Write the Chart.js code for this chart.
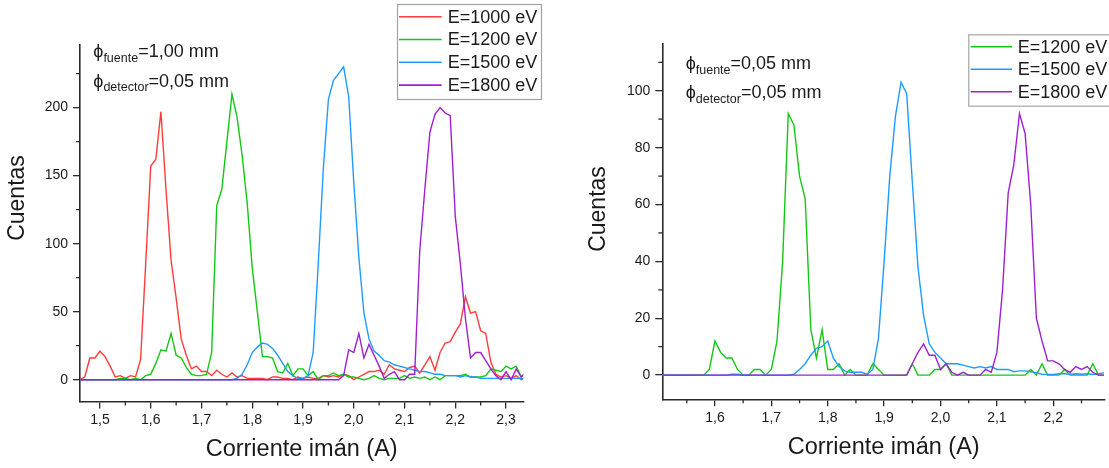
<!DOCTYPE html>
<html>
<head>
<meta charset="utf-8">
<script src="https://cdn.jsdelivr.net/npm/chart.js@4.4.1/dist/chart.umd.min.js"></script>
<style>
  html, body { margin: 0; padding: 0; background: #ffffff; }
  #wrap { position: relative; width: 1109px; height: 468px; overflow: hidden; }
  #panelA { position: absolute; left: 0; top: 0; }
  #panelB { position: absolute; left: 560px; top: 0; }
</style>
</head>
<body>
<div id="wrap">
  <canvas id="panelA" width="560" height="468"></canvas>
  <canvas id="panelB" width="549" height="468"></canvas>
</div>
<script>
// ---------- Panel A: source aperture 1,00 mm ----------
const currentsA = [1.46,1.47,1.48,1.49,1.50,1.51,1.52,1.53,1.54,1.55,
  1.56,1.57,1.58,1.59,1.60,1.61,1.62,1.63,1.64,1.65,
  1.66,1.67,1.68,1.69,1.70,1.71,1.72,1.73,1.74,1.75,
  1.76,1.77,1.78,1.79,1.80,1.81,1.82,1.83,1.84,1.85,
  1.86,1.87,1.88,1.89,1.90,1.91,1.92,1.93,1.94,1.95,
  1.96,1.97,1.98,1.99,2.00,2.01,2.02,2.03,2.04,2.05,
  2.06,2.07,2.08,2.09,2.10,2.11,2.12,2.13,2.14,2.15,
  2.16,2.17,2.18,2.19,2.20,2.21,2.22,2.23,2.24,2.25,
  2.26,2.27,2.28,2.29,2.30,2.31,2.32,2.33,2.34];

const countsA1000 = [0,2,16,16,21,17,10,2,3,1,
  3,2,15,85,157,162,197,140,88,60,
  30,18,8,10,6,6,3,7,4,2,
  5,2,3,1,1,1,1,0,2,2,
  1,1,0,2,1,2,1,1,3,2,
  3,2,4,3,0,2,4,6,6,7,
  4,11,8,7,6,9,10,5,11,17,
  7,20,27,28,35,41,61,49,50,36,
  34,13,4,2,3,1,3,0,2];

const countsA1200 = [0,0,0,0,0,0,0,0,1,1,
  0,1,0,3,4,12,22,21,34,18,
  16,9,4,3,3,4,20,128,140,175,
  210,193,165,130,82,50,17,17,16,6,
  5,12,3,8,8,3,6,0,3,3,
  5,3,4,2,2,1,0,1,3,1,
  0,1,1,1,3,1,2,1,2,0,
  2,0,3,3,3,3,4,2,2,2,
  3,8,7,6,10,8,10,2,6];

const countsA1500 = [0,0,0,0,0,0,0,0,0,0,
  0,0,0,0,0,0,0,0,0,0,
  0,0,0,0,0,0,0,0,0,0,
  0,1,4,11,20,24,27,26,23,18,
  12,6,3,1,1,3,20,85,155,206,
  220,225,230,208,145,90,49,30,21,18,
  14,13,11,10,9,8,7,6,6,5,
  4,4,3,3,3,2,3,2,2,1,
  1,1,1,1,1,1,1,1,1];

const countsA1800 = [0,0,0,0,0,0,0,0,0,0,
  0,0,0,0,0,0,0,0,0,0,
  0,0,0,0,0,0,0,0,0,0,
  0,0,0,0,0,0,0,0,0,0,
  0,0,0,0,0,0,0,0,0,0,
  0,0,3,22,20,34,16,26,18,10,
  1,4,6,0,0,4,4,95,140,182,
  195,200,196,194,120,85,45,16,20,20,
  14,8,3,0,6,0,8,2,6];

const xTicksA = [1.5,1.6,1.7,1.8,1.9,2.0,2.1,2.2,2.3];
const xMinorA = [1.55,1.65,1.75,1.85,1.95,2.05,2.15,2.25];
const yTicksA = [0,50,100,150,200];
const yMinorA = [25,75,125,175,225];

// ---------- Panel B: source aperture 0,05 mm ----------
const currentsB = [1.50,1.51,1.52,1.53,1.54,1.55,1.56,1.57,1.58,1.59,
  1.60,1.61,1.62,1.63,1.64,1.65,1.66,1.67,1.68,1.69,
  1.70,1.71,1.72,1.73,1.74,1.75,1.76,1.77,1.78,1.79,
  1.80,1.81,1.82,1.83,1.84,1.85,1.86,1.87,1.88,1.89,
  1.90,1.91,1.92,1.93,1.94,1.95,1.96,1.97,1.98,1.99,
  2.00,2.01,2.02,2.03,2.04,2.05,2.06,2.07,2.08,2.09,
  2.10,2.11,2.12,2.13,2.14,2.15,2.16,2.17,2.18,2.19,
  2.20,2.21,2.22,2.23,2.24,2.25,2.26,2.27,2.28,2.29];

const countsB1200 = [0,0,0,0,0,0,0,0,0,2,
  12,8,6,6,2,0,0,2,2,0,
  2,12,40,92,88,70,62,16,6,16,
  2,2,4,0,2,0,0,0,4,2,
  0,0,0,0,0,4,0,0,0,2,
  2,4,0,0,0,0,0,0,0,0,
  0,0,0,0,0,0,2,0,4,0,
  0,0,2,0,0,0,0,4,0,0];

const countsB1500 = [0,0,0,0,0,0,0,0,0,0,
  0,0,0,0.3,0.3,0,0,0,0,0,
  0,0,0,0,0.3,2,4,7,9.5,10,
  12,6,3,1.5,1,1,1,0.3,2,13,
  40,70,91,103,99,68,38,21,11,8,
  6,4,4,4,3.5,3,2.5,3,2.5,3,
  2,2,2,1.2,1.5,1.5,1.2,0.8,0.3,0.2,
  0.2,0.5,0.5,0.3,0.5,0.3,0.5,0.2,0.5,0.8];

const countsB1800 = [0,0,0,0,0,0,0,0,0,0,
  0,0,0,0,0,0,0,0,0,0,
  0,0,0,0,0,0,0,0,0,0,
  0,0,0,0,0,0,0,0,0,0,
  0,0,0,0,0,4,8,11,7,7,
  2,4,1,0,1,0,0,0,2,1,
  8,30,64,74,92,85,60,20,12,5,
  5,4,2,1,3,2,3,1,0,0];

const xTicksB = [1.6,1.7,1.8,1.9,2.0,2.1,2.2];
const xMinorB = [1.55,1.65,1.75,1.85,1.95,2.05,2.15,2.25];
const yTicksB = [0,20,40,60,80,100];
const yMinorB = [10,30,50,70,90,110];

// ---------- shared look ----------
const FONT = "'Liberation Sans', Arial, Helvetica, sans-serif";
const AXIS = '#2b2b2b';
const TEXT = '#1a1a1a';
const COLOR = { e1000: '#ff3b3b', e1200: '#12c812', e1500: '#1f9bff', e1800: '#a020d0' };

// Short, unlabeled tick marks between the major ones
const minorTicks = {
  id: 'minorTicks',
  afterDraw(chart, args, o) {
    const { ctx, scales: { x, y } } = chart;
    ctx.save();
    ctx.strokeStyle = AXIS;
    ctx.lineWidth = 1.3;
    ctx.beginPath();
    o.x.forEach(v => {
      const px = x.getPixelForValue(v);
      ctx.moveTo(px, x.top); ctx.lineTo(px, x.top + o.length);
    });
    o.y.forEach(v => {
      const py = y.getPixelForValue(v);
      ctx.moveTo(y.right, py); ctx.lineTo(y.right - o.length, py);
    });
    ctx.stroke();
    ctx.restore();
  }
};

// Rotated y-axis caption
const yCaption = {
  id: 'yCaption',
  afterDraw(chart, args, o) {
    const ctx = chart.ctx;
    ctx.save();
    ctx.translate(o.x, o.y);
    ctx.rotate(-Math.PI / 2);
    ctx.font = `${o.size}px ${FONT}`;
    ctx.fillStyle = TEXT;
    ctx.textAlign = 'center';
    ctx.textBaseline = 'middle';
    ctx.fillText(o.text, 0, 0);
    ctx.restore();
  }
};

// Aperture notes: ϕ with a subscript, then the value
const apertureNotes = {
  id: 'apertureNotes',
  afterDraw(chart, args, o) {
    const ctx = chart.ctx;
    ctx.save();
    ctx.fillStyle = TEXT;
    ctx.textBaseline = 'alphabetic';
    ctx.textAlign = 'left';
    const main = `${o.size}px ${FONT}`;
    const sub = `${o.subSize}px ${FONT}`;
    o.lines.forEach(line => {
      let x = o.x;
      ctx.font = main;
      ctx.fillText('\u03D5', x, line.baseline);
      x += ctx.measureText('\u03D5').width;
      ctx.font = sub;
      ctx.fillText(line.sub, x, line.baseline + o.subDrop);
      x += ctx.measureText(line.sub).width;
      ctx.font = main;
      ctx.fillText(line.text, x, line.baseline);
    });
    ctx.restore();
  }
};

// Framed legend placed freely over the panel
const boxLegend = {
  id: 'boxLegend',
  afterDraw(chart, args, o) {
    const ctx = chart.ctx;
    ctx.save();
    ctx.fillStyle = '#ffffff';
    ctx.fillRect(o.left, o.top, o.width, o.height);
    ctx.strokeStyle = '#a3a3a3';
    ctx.lineWidth = 1.2;
    ctx.strokeRect(o.left + 0.5, o.top + 0.5, o.width, o.height);
    ctx.font = `${o.size}px ${FONT}`;
    ctx.textBaseline = 'middle';
    ctx.textAlign = 'left';
    chart.data.datasets.forEach((ds, i) => {
      const cy = o.top + o.firstRow + i * o.rowGap;
      ctx.strokeStyle = ds.borderColor;
      ctx.lineWidth = 1.6;
      ctx.beginPath();
      ctx.moveTo(o.left + o.lineStart, cy);
      ctx.lineTo(o.left + o.lineEnd, cy);
      ctx.stroke();
      ctx.fillStyle = TEXT;
      ctx.fillText(ds.label, o.left + o.textStart, cy + 1);
    });
    ctx.restore();
  }
};

function makePanel(canvasId, p) {
  const n = p.series.length;
  const datasets = p.series.map((s, i) => ({
    label: s.label,
    data: p.currents.map((c, k) => ({ x: c, y: s.values[k] })),
    borderColor: s.color,
    backgroundColor: s.color,
    borderWidth: 1.4,
    pointRadius: 0,
    tension: 0,
    fill: false,
    order: n - i
  }));
  const tickFont = { family: FONT, size: 14 };
  return new Chart(document.getElementById(canvasId), {
    type: 'line',
    data: { datasets },
    plugins: [minorTicks, yCaption, apertureNotes, boxLegend],
    options: {
      responsive: false,
      animation: false,
      events: [],
      layout: { padding: p.padding },
      scales: {
        x: {
          type: 'linear',
          min: p.xMin, max: p.xMax,
          afterBuildTicks: s => { s.ticks = p.xTicks.map(v => ({ value: v })); },
          afterFit: s => { s.height = p.xHeight; },
          ticks: {
            callback: v => v.toFixed(1).replace('.', ','),
            font: tickFont, color: TEXT, padding: 3, maxRotation: 0, autoSkip: false
          },
          grid: { drawOnChartArea: false, drawTicks: true, tickLength: 7, color: AXIS, lineWidth: 1.3 },
          border: { display: true, color: AXIS, width: 1.6 },
          title: {
            display: true, text: 'Corriente imán (A)', color: TEXT,
            font: { family: FONT, size: 23.5 }, padding: { top: 0, bottom: p.xTitlePad }
          }
        },
        y: {
          type: 'linear',
          min: p.yMin, max: p.yMax,
          afterBuildTicks: s => { s.ticks = p.yTicks.map(v => ({ value: v })); },
          afterFit: s => { s.width = p.yWidth; },
          ticks: { callback: v => String(v), font: tickFont, color: TEXT, padding: 5, autoSkip: false },
          grid: { drawOnChartArea: false, drawTicks: true, tickLength: 7, color: AXIS, lineWidth: 1.3 },
          border: { display: true, color: AXIS, width: 1.6 },
          title: { display: false }
        }
      },
      plugins: {
        legend: { display: false },
        tooltip: { enabled: false },
        minorTicks: { x: p.xMinor, y: p.yMinor, length: 4 },
        yCaption: p.yCaption,
        apertureNotes: p.notes,
        boxLegend: p.legend
      }
    }
  });
}

makePanel('panelA', {
  currents: currentsA,
  series: [
    { label: 'E=1000 eV', values: countsA1000, color: COLOR.e1000 },
    { label: 'E=1200 eV', values: countsA1200, color: COLOR.e1200 },
    { label: 'E=1500 eV', values: countsA1500, color: COLOR.e1500 },
    { label: 'E=1800 eV', values: countsA1800, color: COLOR.e1800 }
  ],
  xMin: 1.4606, xMax: 2.334, yMin: -16, yMax: 246,
  xTicks: xTicksA, xMinor: xMinorA, yTicks: yTicksA, yMinor: yMinorA,
  padding: { left: 0, top: 45, right: 36.7, bottom: 0 },
  xHeight: 66.5, yWidth: 80, xTitlePad: 4,
  yCaption: { text: 'Cuentas', x: 17.5, y: 198, size: 23 },
  notes: {
    x: 93.3, size: 18, subSize: 12.5, subDrop: 4.4,
    lines: [
      { sub: 'fuente', text: '=1,00 mm', baseline: 57.3 },
      { sub: 'detector', text: '=0,05 mm', baseline: 86.7 }
    ]
  },
  legend: { left: 397, top: 4, width: 144, height: 95, size: 18,
            firstRow: 12.7, rowGap: 22.8, lineStart: 2, lineEnd: 44.7, textStart: 50.7 }
});

makePanel('panelB', {
  currents: currentsB,
  series: [
    { label: 'E=1200 eV', values: countsB1200, color: COLOR.e1200 },
    { label: 'E=1500 eV', values: countsB1500, color: COLOR.e1500 },
    { label: 'E=1800 eV', values: countsB1800, color: COLOR.e1800 }
  ],
  xMin: 1.5066, xMax: 2.2917, yMin: -8.5, yMax: 116.7,
  xTicks: xTicksB, xMinor: xMinorB, yTicks: yTicksB, yMinor: yMinorB,
  padding: { left: 0, top: 43.3, right: 4, bottom: 0 },
  xHeight: 68.7, yWidth: 102.3, xTitlePad: 6,
  yCaption: { text: 'Cuentas', x: 38.7, y: 209, size: 23 },
  notes: {
    x: 125.7, size: 18, subSize: 12.5, subDrop: 4.4,
    lines: [
      { sub: 'fuente', text: '=0,05 mm', baseline: 69.3 },
      { sub: 'detector', text: '=0,05 mm', baseline: 98.3 }
    ]
  },
  legend: { left: 408.3, top: 34.3, width: 142, height: 71.4, size: 18,
            firstRow: 12.4, rowGap: 22.5, lineStart: 2.4, lineEnd: 43.7, textStart: 49.4 }
});
</script>
</body>
</html>
